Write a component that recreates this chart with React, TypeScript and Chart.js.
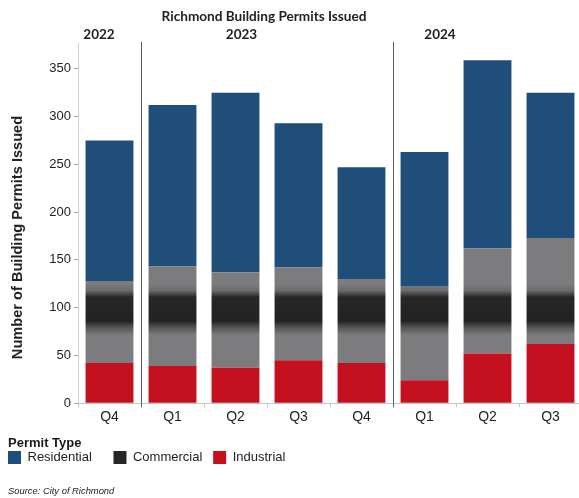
import { useEffect, useRef } from 'react';
import { Chart, registerables } from 'chart.js';

Chart.register(...registerables);

// ---- data ----
const quarters = ['Q4', 'Q1', 'Q2', 'Q3', 'Q4', 'Q1', 'Q2', 'Q3'];
const yearOfBar = ['2022', '2023', '2023', '2023', '2023', '2024', '2024', '2024'];
const residential = [147, 169, 188, 151, 117, 141, 197, 152];
const commercial = [86, 104, 100, 97, 88, 98, 110, 111];
const industrial = [42, 39, 37, 45, 42, 24, 52, 62];
const yTicks = [0, 50, 100, 150, 200, 250, 300, 350];

const chartTitle = 'Richmond Building Permits Issued';
const yTitle = 'Number of Building Permits Issued';
const legendTitle = 'Permit Type';
const sourceText = 'Source: City of Richmond';

// ---- styles ----
const SANS = '"Liberation Sans", Arial, sans-serif';
const HUMAN = 'Lato, "Open Sans", sans-serif';
const BLUE = '#1f4e7b';
const RED = '#c5101f';
const DARK = '#262626';
const GREY = '#7c7c7f';
const yearLabelX: Record<string, number> = { '2022': 99, '2023': 241.5, '2024': 440 };

function commercialFill(ctx: any) {
  const chart = ctx.chart;
  if (ctx.type !== 'data' || !chart.chartArea) return DARK;
  const y = chart.scales.y;
  const top = 125;
  const bottom = 70;
  const g = chart.ctx.createLinearGradient(0, y.getPixelForValue(top), 0, y.getPixelForValue(bottom));
  const stop = (v: number, c: string) => g.addColorStop((top - v) / (top - bottom), c);
  stop(125, GREY);
  stop(118, '#6c6c6e');
  stop(111, '#272727');
  stop(86, '#222222');
  stop(80, '#505052');
  stop(72, '#79797b');
  stop(70, GREY);
  return g;
}

const annotate = {
  id: 'annotate',
  afterDraw(chart: any) {
    const { ctx, chartArea, scales } = chart;
    const x = scales.x;
    ctx.save();
    // year separators
    ctx.strokeStyle = '#5e5e5e';
    ctx.lineWidth = 1;
    const groups: { year: string; start: number; end: number }[] = [];
    yearOfBar.forEach((yr, i) => {
      const last = groups[groups.length - 1];
      if (last && last.year === yr) last.end = i;
      else groups.push({ year: yr, start: i, end: i });
    });
    groups.forEach((g, gi) => {
      if (gi > 0) {
        const px = Math.round((x.getPixelForValue(g.start - 1) + x.getPixelForValue(g.start)) / 2) + 0.5;
        ctx.beginPath();
        ctx.moveTo(px, chartArea.top - 1);
        ctx.lineTo(px, chartArea.bottom + 4);
        ctx.stroke();
      }
    });
    // title
    ctx.fillStyle = '#222';
    ctx.textBaseline = 'middle';
    ctx.textAlign = 'center';
    ctx.font = `bold 13.6px ${HUMAN}`;
    ctx.fillText(chartTitle, 264, 17);
    // year labels
    ctx.font = `bold 13.5px ${HUMAN}`;
    groups.forEach((g) => ctx.fillText(g.year, yearLabelX[g.year], 35));
    // y title
    ctx.save();
    ctx.translate(18, 237.5);
    ctx.rotate(-Math.PI / 2);
    ctx.font = `bold 14.6px ${SANS}`;
    ctx.fillText(yTitle, 0, 0);
    ctx.restore();
    // source
    ctx.textAlign = 'left';
    ctx.font = `italic 9.4px ${SANS}`;
    ctx.fillText(sourceText, 8, 491);
    ctx.restore();
  },
};

// extra spacing after each legend label, indexed by dataset (Industrial, Commercial, Residential)
const legendGap = ['', '   ', '      '];

export default function App() {
  const ref = useRef<HTMLCanvasElement>(null);

  useEffect(() => {
    if (!ref.current) return;
    const chart = new Chart(ref.current, {
      type: 'bar',
      data: {
        labels: quarters,
        datasets: [
          { label: 'Industrial', data: industrial, backgroundColor: RED },
          { label: 'Commercial', data: commercial, backgroundColor: commercialFill as any },
          { label: 'Residential', data: residential, backgroundColor: BLUE },
        ],
      },
      options: {
        responsive: false,
        animation: false,
        devicePixelRatio: 1,
        layout: { padding: { left: 8, top: 43, right: 4, bottom: 24 } },
        datasets: { bar: { barPercentage: 0.76, categoryPercentage: 1 } },
        plugins: {
          tooltip: { enabled: false },
          legend: {
            position: 'bottom',
            align: 'start',
            reverse: true,
            title: {
              display: true,
              text: legendTitle,
              position: 'start',
              color: '#1a1a1a',
              font: { family: SANS, size: 13, weight: 'bold', lineHeight: 1.1 },
              padding: { top: 8.5, bottom: 0 },
            },
            labels: {
              boxWidth: 13,
              boxHeight: 13,
              padding: 0,
              color: '#222',
              font: { family: SANS, size: 13 },
              generateLabels: (c: any) => {
                const items = Chart.defaults.plugins.legend.labels.generateLabels(c);
                const fills = [RED, DARK, BLUE];
                items.forEach((it: any) => {
                  const i = it.datasetIndex;
                  it.fillStyle = fills[i];
                  it.strokeStyle = fills[i];
                  it.lineWidth = 0;
                  it.text = it.text + legendGap[i];
                });
                return items;
              },
            },
          },
        },
        scales: {
          x: {
            stacked: true,
            grid: { display: true, drawOnChartArea: false, drawTicks: true, tickLength: 4, color: '#c4c4c4', offset: true },
            border: { display: true, color: '#c4c4c4' },
            ticks: { color: '#222', font: { family: SANS, size: 14 }, padding: 2 },
            afterFit: (s: any) => { s.height = 25; },
          },
          y: {
            stacked: true,
            min: 0,
            max: 377,
            afterBuildTicks: (s: any) => { s.ticks = yTicks.map((v) => ({ value: v })); },
            grid: { drawOnChartArea: false, drawTicks: true, tickLength: 4, color: '#aaaaaa' },
            border: { display: true, color: '#cfcfcf' },
            ticks: { color: '#222', font: { family: SANS, size: 13 }, padding: 3 },
            afterFit: (s: any) => { s.width = 70; },
          },
        },
      },
      plugins: [annotate],
    });
    return () => chart.destroy();
  }, []);

  return (
    <div style={{ position: 'fixed', left: 0, top: 0, width: 579, height: 498, overflow: 'hidden', background: '#fff' }}>
      <canvas ref={ref} width={586} height={498} style={{ display: 'block', width: 586, height: 498 }} />
    </div>
  );
}
